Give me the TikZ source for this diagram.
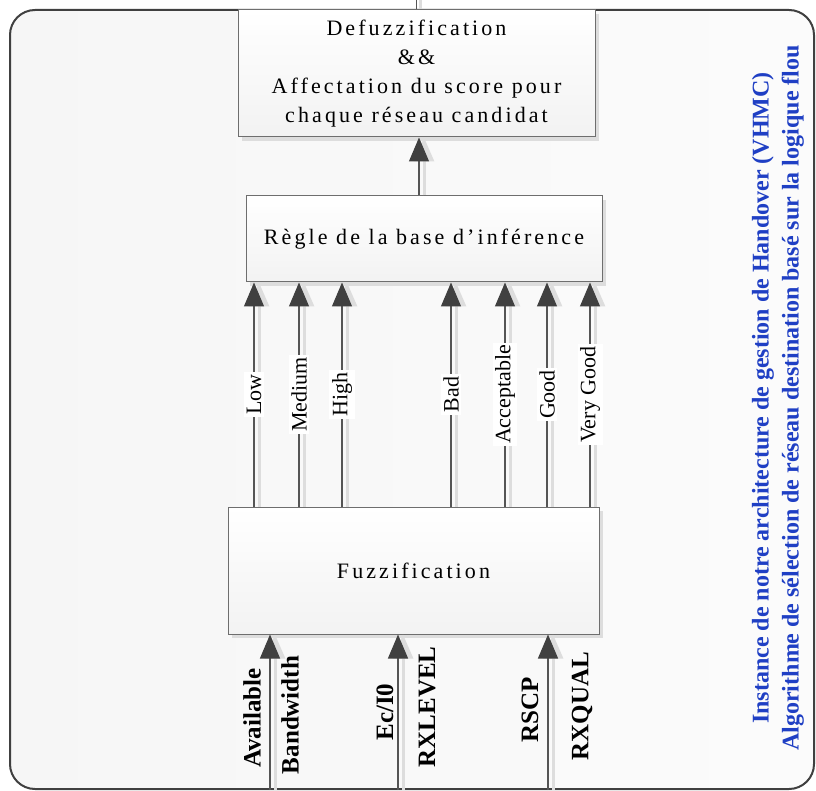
\documentclass[tikz,border=0pt]{standalone}
\usepackage{fontspec}
\setmainfont{Liberation Serif}
\newfontfamily\spacedfont[LetterSpace=14]{Liberation Serif}
\usetikzlibrary{arrows.meta, positioning, shadows}
\definecolor{vhmcBlue}{HTML}{1F3FC4}
\definecolor{vhmcEdge}{HTML}{6E6E6E}
\definecolor{vhmcLine}{HTML}{555555}
\definecolor{vhmcHead}{HTML}{404040}
\definecolor{vhmcShade}{HTML}{DDDDDD}

\begin{document}
\begin{tikzpicture}[x=1pt, y=-1pt,
  frame/.style={draw=vhmcHead, line width=2pt, rounded corners=25pt, left color=gray!7, right color=gray!3},
  block/.style={draw=vhmcEdge, line width=1pt, top color=white, bottom color=gray!10,
                font=\fontsize{22}{29}\spacedfont, align=center,
                drop shadow={shadow xshift=4pt, shadow yshift=-4pt, fill=vhmcShade, opacity=1}},
  flow/.style={draw=vhmcLine, line width=1.2pt, -{Triangle[width=20pt, length=24pt, color=vhmcHead]}},
  flowshade/.style={draw=vhmcShade, line width=3pt, -{Triangle[width=20pt, length=24pt]}},
  lbl/.style={rotate=90, fill=white, font=\fontsize{22}{22}\selectfont, inner sep=2.5pt},
  inlbl/.style={rotate=90, font=\fontsize{25}{25}\selectfont\bfseries, inner sep=0pt}]
\useasboundingbox (0,0) rectangle (816,791);
\node[frame, minimum width=804, minimum height=779] (frame) at (412,399.5) {};
% ---- blocks
\node[block, minimum width=357, minimum height=127] (defuzz) at (416.5,73.5)
  {Defuzzification\\\&\&\\Affectation du score pour\\chaque réseau candidat};
\node[block, minimum width=356, minimum height=86] (regle) at (424,239)
  {Règle de la base d’inférence};
\node[block, minimum width=371, minimum height=127] (fuzz) at (413.5,570.5)
  {Fuzzification};
% ---- output to the top
\coordinate (out) at (defuzz.north |- 0,0);
\draw[draw=vhmcShade, line width=3pt] ([xshift=4pt]defuzz.north) -- ([xshift=4pt]out);
\draw[draw=vhmcLine, line width=1.2pt] (defuzz.north) -- (out);
% ---- regle -> defuzz
\draw[flowshade] (regle.north -| 424,0) -- (defuzz.south -| 424,0);
\draw[flow] (regle.north -| 419,0) -- (defuzz.south -| 419,0);
% ---- fuzzy terms
\foreach \x/\lab [evaluate=\x as \xs using \x+5] in
    {254/Low, 299/Medium, 342/High, 451/Bad, 505/Acceptable, 547/Good, 590/{Very Good}} {
  \draw[flowshade] (fuzz.north -| \xs,0) -- (regle.south -| \xs,0);
  \draw[flow] (fuzz.north -| \x,0) -- node[lbl] {\lab} (regle.south -| \x,0);
}
% ---- inputs
\foreach \x [evaluate=\x as \xs using \x+5] in {270, 398, 548} {
  \draw[flowshade] (frame.south -| \xs,0) -- (fuzz.south -| \xs,0);
  \draw[flow] (frame.south -| \x,0) -- (fuzz.south -| \x,0);
}
\node[inlbl] (avail) at (252,718) {Available};
\node[inlbl] (bw) at (290,715) {Bandwidth};
\node[inlbl] (ecio) at (385,712) {Ec/I0};
\node[inlbl] (rxlev) at (427,707) {RXLEVEL};
\node[inlbl] (rscp) at (530,710) {RSCP};
\node[inlbl] (rxqual) at (582,706) {RXQUAL};
% ---- caption
\node[rotate=90, text=vhmcBlue, font=\fontsize{24}{30}\selectfont\bfseries, align=center] (title) at (778,398)
  {Instance de notre architecture de gestion de Handover (VHMC)\\Algorithme de sélection de réseau destination basé sur la logique flou};
\end{tikzpicture}
\end{document}
